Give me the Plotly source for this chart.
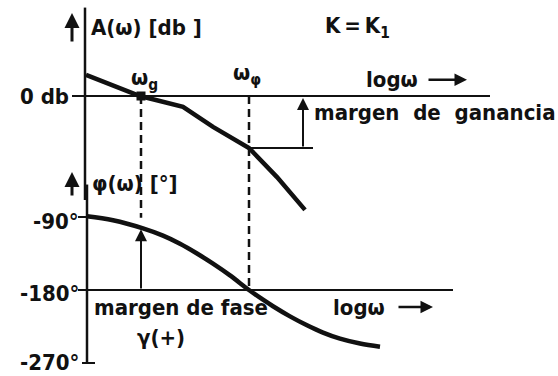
import plotly.graph_objects as go

# Bode diagram for K = K1: gain and phase against log(omega)
# frequency axis in decades measured from the vertical axis
w_gain = [0.0, 0.54, 0.97, 1.27, 1.63, 1.91, 2.19]
gain_db = [8.1, 0.0, -4.2, -11.9, -20.0, -31.2, -43.8]

w_phase = [0.01, 0.27, 0.57, 0.77, 0.94, 1.11, 1.27, 1.44, 1.63, 1.77, 1.87,
           2.04, 2.21, 2.37, 2.54, 2.74, 2.94]
phase_deg = [-89.0, -94.0, -104.0, -113.0, -123.0, -135.0, -147.5, -162.0, -180.0,
             -192.0, -200.0, -212.5, -223.5, -232.5, -240.0, -246.0, -250.0]

w_g = 0.55            # gain crossover frequency (0 dB)
w_phi = 1.63          # phase crossover frequency (-180 deg)
gain_margin_db = -20.0
phase_at_wg = -103.0

phase_ticks = [-90, -180, -270]
phase_tick_text = ["-90°", "-180°", "-270°"]
phase_label_shift = [-6, -4, 1]

X_RANGE = [-0.86, 4.72]
DB_RANGE = [-107.69, 36.92]
DEG_RANGE = [-286.03, 177.53]

INK = "#111111"
FAMILY = "DejaVu Sans Condensed, DejaVu Sans, sans-serif"
SIZE = 22
NB = "\u00a0"
THIN = "\u2009"


def deg_on_db(d):
    """Express a phase value on the gain axis (both axes share the plot height)."""
    f = (d - DEG_RANGE[0]) / (DEG_RANGE[1] - DEG_RANGE[0])
    return DB_RANGE[0] + f * (DB_RANGE[1] - DB_RANGE[0])


fig = go.Figure()

# gain curve
fig.add_trace(go.Scatter(x=w_gain, y=gain_db, mode="lines",
                         line=dict(color=INK, width=4.5), yaxis="y",
                         hoverinfo="skip"))
# phase curve
fig.add_trace(go.Scatter(x=w_phase, y=phase_deg, mode="lines",
                         line=dict(color=INK, width=4.5, shape="spline", smoothing=1.0),
                         yaxis="y2", hoverinfo="skip"))
# crossover dot
fig.add_trace(go.Scatter(x=[w_g], y=[0], mode="markers",
                         marker=dict(symbol="square", size=9, color=INK),
                         yaxis="y", hoverinfo="skip"))
# dashed verticals at the two crossover frequencies
fig.add_trace(go.Scatter(x=[w_g, w_g], y=[0, deg_on_db(-91)], mode="lines",
                         line=dict(color=INK, width=2.5, dash="8px,5px"),
                         yaxis="y", hoverinfo="skip"))
fig.add_trace(go.Scatter(x=[w_phi, w_phi], y=[0, deg_on_db(-180)], mode="lines",
                         line=dict(color=INK, width=2.5, dash="8px,5px"),
                         yaxis="y", hoverinfo="skip"))

shapes = []
# vertical axis (gain part then phase part)
shapes.append(dict(type="line", xref="x", yref="y", x0=-0.01, x1=-0.01, y0=34, y1=-40,
                   line=dict(color=INK, width=2.5)))
shapes.append(dict(type="line", xref="x", yref="y2", x0=0.01, x1=0.01, y0=-50, y1=-270,
                   line=dict(color=INK, width=2.5)))
# 0 dB reference line with its tick
shapes.append(dict(type="line", xref="x", yref="y", x0=-0.14, x1=4.04, y0=0, y1=0,
                   line=dict(color=INK, width=2)))
# -180 deg reference line
shapes.append(dict(type="line", xref="x", yref="y2", x0=-0.08, x1=3.67, y0=-180, y1=-180,
                   line=dict(color=INK, width=2)))
# phase ticks
shapes.append(dict(type="line", xref="x", yref="y2", x0=-0.08, x1=0.01, y0=-90, y1=-90,
                   line=dict(color=INK, width=2)))
shapes.append(dict(type="line", xref="x", yref="y2", x0=-0.04, x1=0.09, y0=-270, y1=-270,
                   line=dict(color=INK, width=2)))
# gain-margin level line
shapes.append(dict(type="line", xref="x", yref="y", x0=w_phi, x1=2.27,
                   y0=gain_margin_db, y1=gain_margin_db,
                   line=dict(color=INK, width=2)))

ann = []


def text(s, x, y, yref="y", xanchor="left", size=SIZE):
    ann.append(dict(text=s, x=x, y=y, xref="x", yref=yref, showarrow=False,
                    xanchor=xanchor, yanchor="middle", borderpad=0,
                    font=dict(family=FAMILY, size=size, color=INK, weight="bold")))


def arrow(x, y_tip, x_tail, y_tail, yref="y", width=2, size=1.2):
    ann.append(dict(text="", x=x, y=y_tip, ax=x_tail, ay=y_tail, xref="x", yref=yref,
                    axref="x", ayref=yref, showarrow=True, arrowhead=2,
                    arrowsize=size, arrowwidth=width, arrowcolor=INK))


text("A(ω) [db" + NB + "]", 0.04, 26.2)
text("K" + THIN + "=" + THIN + "K<sub>1</sub>", 2.71, 26.2, xanchor="center")
text("ω<sub>g</sub>", 0.44, 6.2)
text("ω<sub>φ</sub>", 1.46, 8.1)
text("logω", 2.79, 6.2)
text("margen" + NB * 2 + "de" + NB * 2 + "ganancia", 2.27, -6.5)
text("0 db", -0.16, 0, xanchor="right")
text("φ(ω) [°]", 0.05, -48.1, yref="y2")
for v, s, dv in zip(phase_ticks, phase_tick_text, phase_label_shift):
    text(s, -0.06, v + dv, yref="y2", xanchor="right")
text("margen de fase", 0.07, -201, yref="y2")
text("γ(+)", 0.50, -238, yref="y2")
text("logω", 2.46, -201, yref="y2")

# axis direction arrows
arrow(-0.14, 31.9, -0.14, 20.4, width=3, size=1)
arrow(-0.14, -34.5, -0.14, -65.3, yref="y2", width=3, size=1)
arrow(3.81, 6.2, 3.41, 6.2, width=2.5, size=1)
arrow(3.47, -201, 3.11, -201, yref="y2", width=2.5, size=1)
# margin arrows
arrow(2.17, -0.8, 2.17, gain_margin_db)
arrow(w_g, phase_at_wg - 2, w_g, -180, yref="y2")

fig.update_layout(
    width=558, height=376,
    margin=dict(l=0, r=0, t=0, b=0),
    paper_bgcolor="white", plot_bgcolor="white",
    showlegend=False,
    shapes=shapes, annotations=ann,
    xaxis=dict(range=X_RANGE, visible=False, fixedrange=True),
    yaxis=dict(range=DB_RANGE, visible=False, fixedrange=True),
    yaxis2=dict(range=DEG_RANGE, visible=False, overlaying="y", fixedrange=True),
)

fig.write_html("out.html", config={"displayModeBar": False})
